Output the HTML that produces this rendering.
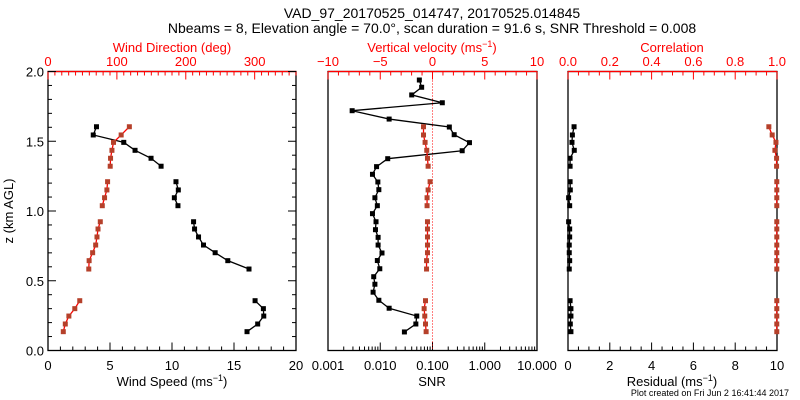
<!DOCTYPE html>
<html><head><meta charset="utf-8"><style>
body{margin:0;background:#fff}
svg{display:block;font-family:"Liberation Sans",sans-serif}
</style></head><body>
<svg id="c" width="800" height="400" viewBox="0 0 800 400">
<text x="432" y="18" font-size="14" text-anchor="middle">VAD_97_20170525_014747, 20170525.014845</text>
<text x="432" y="33" font-size="14" text-anchor="middle">Nbeams = 8, Elevation angle = 70.0°, scan duration = 91.6 s, SNR Threshold = 0.008</text>
<text x="0" y="0" font-size="13" text-anchor="middle" transform="translate(13,211) rotate(-90)">z (km AGL)</text>
<text x="94" y="393" font-size="8.5" x-dummy=""></text>
<text x="789" y="396" font-size="9" text-anchor="end">Plot created on Fri Jun  2 16:41:44 2017</text>
</svg>
<script>
// heights (km)
const H = [1.604,1.545,1.492,1.435,1.378,1.321,1.210,1.151,1.095,1.038,0.923,0.871,0.814,0.756,0.701,0.644,0.584,0.357,0.300,0.247,0.190,0.135];
const windSpeed = [3.91,3.65,6.11,7.02,8.31,9.12,10.32,10.51,10.19,10.48,11.74,11.82,12.14,12.54,13.48,14.50,16.21,16.70,17.37,17.40,16.91,16.05];
const windDir = [118.1,106.2,95.1,92.8,90.8,90.3,86.5,85.5,82.1,78.8,75.9,72.6,71.1,69.2,64.8,59.7,59.2,46.1,38.9,30.3,25.1,22.2];
const vertVel = [-0.86,-0.86,-0.71,-0.55,-0.48,-0.42,-0.23,-0.42,-0.52,-0.52,-0.48,-0.48,-0.48,-0.48,-0.48,-0.57,-0.57,-0.67,-0.80,-0.74,-0.67,-0.61];
const residual = [0.29,0.21,0.19,0.30,0.10,0.10,0.10,0.11,0.03,0.08,0.03,0.08,0.08,0.06,0.06,0.08,0.06,0.10,0.14,0.14,0.11,0.14];
const correlation = [0.961,0.977,0.995,0.990,0.998,0.998,0.999,0.999,0.999,0.999,0.999,0.999,0.999,0.999,0.999,0.999,0.999,0.999,0.999,0.999,0.999,0.999];
const snrH = [1.939,1.887,1.832,1.776,1.719,1.659,1.602,1.547,1.490,1.432,1.375,1.318,1.263,1.208,1.153,1.095,1.038,0.981,0.923,0.866,0.811,0.756,0.699,0.645,0.586,0.529,0.475,0.418,0.360,0.303,0.247,0.190,0.133];
const snr = [0.056,0.062,0.040,0.154,0.0029,0.0148,0.21,0.26,0.51,0.37,0.0139,0.0085,0.0071,0.0090,0.0094,0.0079,0.0088,0.0071,0.0083,0.0081,0.0091,0.0091,0.0108,0.0088,0.0098,0.0075,0.0079,0.0073,0.0094,0.0148,0.050,0.048,0.029];
const speedTicks = ["0","5","10","15","20"];
const dirTicks = ["0","100","200","300"];
const snrTicks = ["0.001","0.010","0.100","1.000","10.000"];
const velTicks = ["−10","−5","0","5","10"];
const resTicks = ["0","2","4","6","8","10"];
const corTicks = ["0.0","0.2","0.4","0.6","0.8","1.0"];
const zTicks = ["0.0","0.5","1.0","1.5","2.0"];

const svg=document.getElementById('c');
const NS='http://www.w3.org/2000/svg';
const TOP=71.5,BOT=350.5;
const y=z=>BOT-(z/2)*(BOT-TOP);
function el(t,a,txt){const e=document.createElementNS(NS,t);for(const k in a)e.setAttribute(k,a[k]);if(txt!=null)e.textContent=txt;svg.appendChild(e);return e;}
function lin(a,b,d0,d1){return v=>a+(v-d0)/(d1-d0)*(b-a);}
function logs(a,b,d0,d1){return v=>a+(Math.log10(v)-d0)/(d1-d0)*(b-a);}
const P=[[48,296],[328,537],[568,777]];
const RED='#ff0000',MRED='#b5402a';

function frame(i,name){
  const [l,r]=P[i];
  const f=el('rect',{x:l,y:TOP,width:r-l,height:BOT-TOP,fill:'none',stroke:'#000','stroke-width':1.3});
  
  const t=el('line',{x1:l,x2:r,y1:TOP,y2:TOP,stroke:RED,'stroke-width':1.3});
  
}
function tick(x,isTop,len,color){el('line',{x1:x,x2:x,y1:isTop?TOP:BOT,y2:isTop?TOP+len:BOT-len,stroke:color,'stroke-width':1});}
function label(x,yy,s,color,name,size){const t=el('text',{x:x,y:yy,'font-size':size||13,'text-anchor':'middle',fill:color},s);return t;}

// Panel 1
frame(0,'wind-panel');
const xs=lin(48,296,0,20), xd=lin(48,296,0,360);
for(let v=0;v<=20;v++)tick(xs(v),false,v%5?4:8,'#000');
speedTicks.forEach(s=>label(xs(+s),370,s,'#000','speed-tick-label'));
for(let v=0;v<=360;v+=10)tick(xd(v),true,v%100?4:8,RED);
dirTicks.forEach(s=>label(xd(+s),66,s,RED,'direction-tick-label'));
for(let k=0;k<=20;k++){const z=k/10;const L=k%5?4:8;
  el('line',{x1:48,x2:48+L,y1:y(z),y2:y(z),stroke:'#000'});el('line',{x1:296,x2:296-L,y1:y(z),y2:y(z),stroke:'#000'});}
zTicks.forEach(s=>{const t=el('text',{x:44,y:y(+s)+5,'font-size':13,'text-anchor':'end'},s);});
label(172,52,'Wind Direction (deg)',RED,'wind-direction-title');
const wt=label(172,386,'Wind Speed (ms','#000','wind-speed-title');
const s1=document.createElementNS(NS,'tspan');s1.setAttribute('dy','-5');s1.setAttribute('font-size','9');s1.textContent='−1';wt.appendChild(s1);
const s1b=document.createElementNS(NS,'tspan');s1b.setAttribute('dy','5');s1b.textContent=')';wt.appendChild(s1b);

// Panel 2
frame(1,'snr-panel');
const xsn=logs(328,537,-3,1), xv=lin(328,537,-10,10);
for(let d=-3;d<1;d++)for(let m=1;m<10;m++)tick(xsn(m*Math.pow(10,d)),false,m==1?8:4,'#000');
tick(537,false,8,'#000');
snrTicks.forEach(s=>label(xsn(+s),370,s,'#000','snr-tick-label'));
for(let v=-10;v<=10;v++)tick(xv(v),true,v%5?4:8,RED);
velTicks.forEach(s=>label(xv(+s.replace('−','-')),66,s,RED,'velocity-tick-label'));
const zl=el('line',{x1:xv(0),x2:xv(0),y1:TOP,y2:BOT,stroke:RED,'stroke-width':1,'stroke-dasharray':'1,2'});

const vtt=label(432,52,'Vertical velocity (ms',RED,'vertical-velocity-title');
const s2=document.createElementNS(NS,'tspan');s2.setAttribute('dy','-5');s2.setAttribute('font-size','9');s2.textContent='−1';vtt.appendChild(s2);
const s2b=document.createElementNS(NS,'tspan');s2b.setAttribute('dy','5');s2b.textContent=')';vtt.appendChild(s2b);
label(432,386,'SNR','#000','snr-title');

// Panel 3
frame(2,'residual-panel');
const xr=lin(568,777,0,10), xc=lin(568,777,0,1);
for(let k=0;k<=20;k++)tick(xr(k/2),false,k%4?4:8,'#000');
resTicks.forEach(s=>label(xr(+s),370,s,'#000','residual-tick-label'));
for(let k=0;k<=20;k++)tick(xc(k/20),true,k%4?4:8,RED);
corTicks.forEach(s=>label(xc(+s),66,s,RED,'correlation-tick-label'));
label(672,52,'Correlation',RED,'correlation-title');
const rt=label(672,386,'Residual (ms','#000','residual-title');
const s3=document.createElementNS(NS,'tspan');s3.setAttribute('dy','-5');s3.setAttribute('font-size','9');s3.textContent='−1';rt.appendChild(s3);
const s3b=document.createElementNS(NS,'tspan');s3b.setAttribute('dy','5');s3b.textContent=')';rt.appendChild(s3b);

// series: segments broken on gaps
function series(vals,hs,fx,lc,mc,name,gap){
  const pts=vals.map((v,i)=>[fx(v),y(hs[i])]);
  let segs=[[pts[0]]];
  for(let i=1;i<pts.length;i++){if(gap&&hs[i-1]-hs[i]>0.09)segs.push([]);segs[segs.length-1].push(pts[i]);}
  segs.forEach(sg=>{if(sg.length>1){const p=el('polyline',{points:sg.map(q=>q.join(',')).join(' '),fill:'none',stroke:lc,'stroke-width':1.3});
    }});
  pts.forEach(q=>{const r=el('rect',{x:q[0]-2.5,y:q[1]-2.5,width:5,height:5,fill:mc});
    });
}
series(windSpeed,H,xs,'#000','#000','wind-speed',true);
series(windDir,H,xd,RED,MRED,'wind-direction',true);
series(snr,snrH,xsn,'#000','#000','snr',false);
series(vertVel,H,xv,RED,MRED,'vertical-velocity',true);
series(residual,H,xr,'#000','#000','residual',true);
series(correlation,H,xc,RED,MRED,'correlation',true);
</script>
</body></html>
